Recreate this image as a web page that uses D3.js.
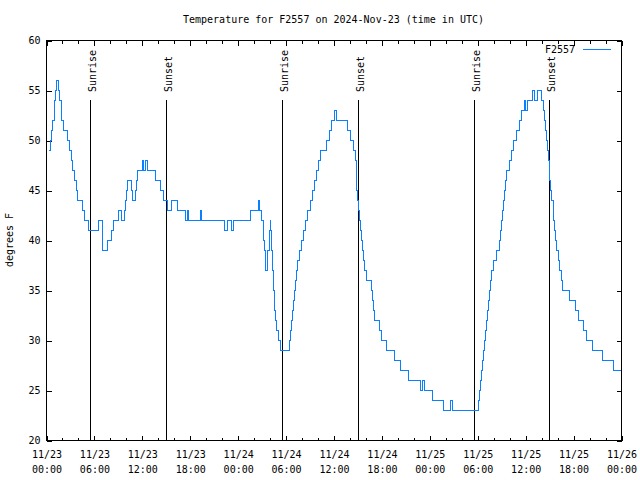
<!DOCTYPE html>
<html><head><meta charset="utf-8">
<script src="https://cdn.jsdelivr.net/npm/d3@7"></script>
<style>
body{margin:0;background:#fff}
svg{display:block}
text{font-family:"DejaVu Sans Mono","Liberation Mono",monospace;font-size:10px;fill:#000}
</style>
</head><body>
<svg id="chart" width="640" height="480"></svg>
<script>
// ---- data (hours since 2024-11-23 00:00 UTC, temperature in F; each value holds until next reading) ----
const temperatureSteps = [
 [0.29,49],[0.56,50],[0.66,51],[0.75,52],[0.94,53],[1.06,54],[1.16,55],[1.25,56],[1.54,55],[1.69,54],
 [1.82,53],[1.94,52],[2.13,51],[2.57,50],[2.88,49],[3.09,48],[3.29,47],[3.51,46],[3.72,45],[3.94,44],
 [4.45,43],[4.76,42],[5.26,41],[6.47,42],[6.95,40],[7.05,39],[7.7,40],[8.1,41],[8.45,42],[9.02,43],
 [9.39,42],[9.73,43],[9.85,44],[9.98,45],[10.18,46],[10.64,45],[10.77,44],[11.14,45],[11.27,46],[11.43,47],
 [11.98,48],[12.2,47],[12.45,48],[12.68,47],[13.69,46],[14.24,45],[14.71,44],[15.19,43],
 [15.59,44],[16.44,43],[17.4,42],[17.6,43],[17.82,42],[19.25,43],[19.45,42],[22.29,41],[22.66,42],[23.17,41],
 [23.42,42],[25.58,43],[26.51,44],[26.67,43],[26.97,42],[27.12,41],[27.23,40],[27.34,39],[27.4,38],[27.48,37],
 [27.65,38],[27.71,39],[27.9,40],[27.96,41],[28.02,42],[28.11,41],[28.16,40],[28.21,39],[28.27,38],[28.34,37],
 [28.4,36],[28.46,35],[28.52,34],[28.59,33],[28.68,32],[28.8,31],[29.05,30],[29.36,29],
 [30.4,30],[30.53,31],[30.65,32],[30.78,33],[30.9,34],[31.03,35],[31.18,36],[31.34,37],[31.49,38],[31.64,39],
 [31.87,40],[32.14,41],[32.43,42],[32.72,43],[33.0,44],[33.28,45],[33.6,46],[33.85,47],[34.06,48],[34.27,49],
 [35.0,50],[35.4,51],[35.73,52],[36.02,53],[36.35,52],[37.75,51],[38.1,50],[38.48,49],[38.69,48],[38.82,47],
 [38.87,45],[38.94,44],[39.07,43],[39.15,42],[39.28,41],[39.4,40],[39.53,39],[39.69,38],[39.86,37],[40.07,36],
 [40.66,35],[40.82,34],[40.95,33],[41.11,32],[41.74,31],[41.95,30],[42.57,29],[43.61,28],[44.33,27],[45.37,26],
 [46.8,25],[47.05,26],[47.3,25],[48.33,24],[49.65,23],[50.59,24],[50.8,23],
 [54.1,24],[54.22,25],[54.32,26],[54.43,27],[54.57,28],[54.69,29],[54.81,30],[54.93,31],[55.06,32],[55.18,33],
 [55.31,34],[55.45,35],[55.57,36],[55.72,37],[55.91,38],[56.41,39],[56.7,40],[56.89,41],[57.01,42],[57.14,43],
 [57.26,44],[57.35,45],[57.44,46],[57.54,47],[57.98,48],[58.27,49],[58.48,50],[58.89,51],[59.23,52],[59.52,53],
 [59.82,54],[60.0,53],[60.22,54],[60.89,55],[61.15,54],[61.45,55],[62.02,54],[62.23,53],[62.42,52],[62.54,51],
 [62.64,50],[62.77,49],[62.86,48],[62.95,47],[63.01,46],[63.14,45],[63.28,44],[63.43,43],[63.53,42],[63.65,41],
 [63.78,40],[63.9,39],[64.08,38],[64.28,37],[64.46,36],[64.65,35],[65.43,34],[66.18,33],[66.62,32],[67.18,31],
 [67.62,30],[68.43,29],[69.68,28],[70.94,27],[71.9,27]
];
const sunriseHours = [5.55, 29.59, 53.59];
const sunsetHours  = [15.06, 39.11, 63.02];
const majorTickHours = [0,6,12,18,24,30,36,42,48,54,60,66,72];
const minorTickHours = [2,4,8,10,14,16,20,22,26,28,32,34,38,40,44,46,50,52,56,58,62,64,68,70];
const xTickDates = ["11/23","11/23","11/23","11/23","11/24","11/24","11/24","11/24","11/25","11/25","11/25","11/25","11/26"];
const xTickTimes = ["00:00","06:00","12:00","18:00","00:00","06:00","12:00","18:00","00:00","06:00","12:00","18:00","00:00"];
const yTicks = [20,25,30,35,40,45,50,55,60];
const seriesName = "F2557";
const titleText = "Temperature for F2557 on 2024-Nov-23 (time in UTC)";
const yLabelText = "degrees F";

// ---- layout ----
const L = 46, R = 621, T = 40, B = 440;
const svg = d3.select("#chart");
const g = svg.append("g").attr("transform","translate(0.5,0.5)");

const x = d3.scaleLinear().domain([0,72]).range([L,R]);
const y = d3.scaleLinear().domain([20,60]).range([B,T]);

// title
svg.append("text").attr("x",(L+R)/2).attr("y",23).attr("text-anchor","middle").text(titleText);

// y label
svg.append("text").attr("transform","translate(13,240) rotate(-90)").attr("text-anchor","middle").text(yLabelText);

function styleAxis(sel){
  sel.select(".domain").remove();
  sel.selectAll("line").attr("stroke","#000").attr("shape-rendering","crispEdges");
  sel.attr("font-family",null).attr("font-size",null);
}

// bottom axis (major with labels)
const gb = g.append("g").attr("transform",`translate(0,${B})`)
  .call(d3.axisBottom(x).tickValues(majorTickHours).tickSizeInner(-5).tickSizeOuter(0).tickFormat(""));
styleAxis(gb);
gb.selectAll(".tick").each(function(d,i){
  const t = d3.select(this).append("text").attr("text-anchor","middle").attr("fill","#000");
  t.append("tspan").attr("x",0).attr("y",17).text(xTickDates[i]);
  t.append("tspan").attr("x",0).attr("y",32).text(xTickTimes[i]);
});
const gbm = g.append("g").attr("transform",`translate(0,${B})`)
  .call(d3.axisBottom(x).tickValues(minorTickHours).tickSizeInner(-3).tickSizeOuter(0).tickFormat(""));
styleAxis(gbm);
// top axis mirror
const gt = g.append("g").attr("transform",`translate(0,${T})`)
  .call(d3.axisTop(x).tickValues(majorTickHours).tickSizeInner(-5).tickSizeOuter(0).tickFormat(""));
styleAxis(gt);
const gtm = g.append("g").attr("transform",`translate(0,${T})`)
  .call(d3.axisTop(x).tickValues(minorTickHours).tickSizeInner(-3).tickSizeOuter(0).tickFormat(""));
styleAxis(gtm);
// left axis
const gl = g.append("g").attr("transform",`translate(${L},0)`)
  .call(d3.axisLeft(y).tickValues(yTicks).tickSizeInner(-5).tickSizeOuter(0).tickPadding(6).tickFormat(d3.format("d")));
styleAxis(gl);
gl.selectAll("text").attr("fill","#000");
// right axis mirror
const gr = g.append("g").attr("transform",`translate(${R},0)`)
  .call(d3.axisRight(y).tickValues(yTicks).tickSizeInner(-5).tickSizeOuter(0).tickFormat(""));
styleAxis(gr);

// sunrise / sunset markers
const markers = sunriseHours.map(h=>({h,label:"Sunrise"})).concat(sunsetHours.map(h=>({h,label:"Sunset"})));
const mk = g.append("g");
mk.selectAll("line").data(markers).join("line")
  .attr("x1",d=>Math.round(x(d.h))).attr("x2",d=>Math.round(x(d.h)))
  .attr("y1",99).attr("y2",B).attr("stroke","#000").attr("shape-rendering","crispEdges");
svg.append("g").selectAll("text").data(markers).join("text")
  .attr("transform",d=>`translate(${Math.round(x(d.h))+5.5},92) rotate(-90)`)
  .attr("text-anchor","start").text(d=>d.label);

// data line
const line = d3.line().x(d=>x(d[0])).y(d=>y(d[1])).curve(d3.curveStepAfter);
g.append("path").datum(temperatureSteps).attr("d",line)
  .attr("fill","none").attr("stroke","#0a80ff").attr("stroke-width",1).attr("shape-rendering","crispEdges");

// border
g.append("rect").attr("x",L).attr("y",T).attr("width",R-L).attr("height",B-T)
  .attr("fill","none").attr("stroke","#000").attr("shape-rendering","crispEdges");

// legend
svg.append("text").attr("x",575).attr("y",53).attr("text-anchor","end").text(seriesName);
g.append("line").attr("x1",582).attr("x2",610).attr("y1",49).attr("y2",49)
  .attr("stroke","#0a80ff").attr("shape-rendering","crispEdges");
</script>
</body></html>
